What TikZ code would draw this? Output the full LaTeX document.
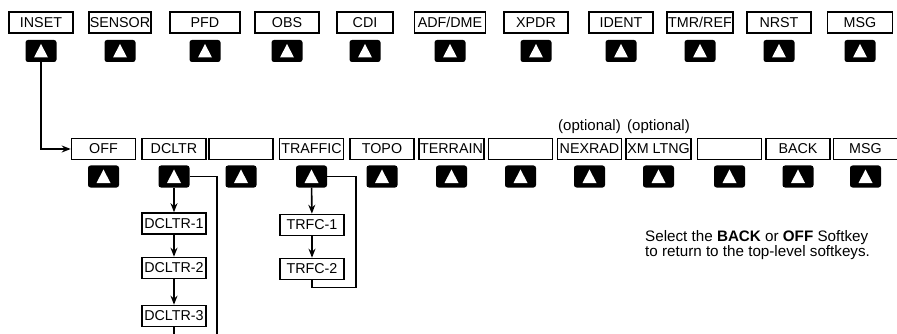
\documentclass[tikz,border=0pt]{standalone}
\usepackage{fontspec}
\setmainfont{Liberation Sans}
\usetikzlibrary{positioning,arrows.meta,calc}

\begin{document}
\begin{tikzpicture}[x=1pt,y=-1pt,>={Stealth[length=9pt,width=7pt]},
    every node/.style={font=\fontsize{14.3}{15}\selectfont},
    softbox/.style={draw,line width=1.6pt,minimum width=64pt,minimum height=21pt,inner sep=1pt},
    softkey/.style={fill=black,rounded corners=2.5pt,minimum width=31pt,minimum height=22pt,inner sep=0pt,
      path picture={\fill[white,sharp corners] ($(path picture bounding box.center)+(-7pt,-6.5pt)$) -- ($(path picture bounding box.center)+(7pt,-6.5pt)$) -- ($(path picture bounding box.center)+(0pt,7pt)$) -- cycle;}},
    link/.style={line width=1.6pt}]
        \useasboundingbox (0,0) rectangle (897,334);
        % top-level softkeys
        \node[softbox] (inset) at (41,22.5) {INSET};
        \node[softbox,minimum width=62pt] (sensor) at (120,22.5) {SENSOR};
        \node[softbox,minimum width=70pt] (pfd) at (205,22.5) {PFD};
        \node[softbox] (obs) at (287,22.5) {OBS};
        \node[softbox,minimum width=56pt] (cdi) at (365,22.5) {CDI};
        \node[softbox,minimum width=71pt] (adfdme) at (450,22.5) {ADF/DME};
        \node[softbox] (xpdr) at (536,22.5) {XPDR};
        \node[softbox] (ident) at (621,22.5) {IDENT};
        \node[softbox,minimum width=65pt] (tmrref) at (700,22.5) {TMR/REF};
        \node[softbox] (nrst) at (779,22.5) {NRST};
        \node[softbox,minimum width=65pt] (msg) at (860,22.5) {MSG};
        \node[softkey,below=6pt of inset] (kinset) {};
        \node[softkey,below=6pt of sensor] (ksensor) {};
        \node[softkey,below=6pt of pfd] (kpfd) {};
        \node[softkey,below=6pt of obs] (kobs) {};
        \node[softkey,below=6pt of cdi] (kcdi) {};
        \node[softkey,below=6pt of adfdme] (kadfdme) {};
        \node[softkey,below=6pt of xpdr] (kxpdr) {};
        \node[softkey,below=6pt of ident] (kident) {};
        \node[softkey,below=6pt of tmrref] (ktmrref) {};
        \node[softkey,below=6pt of nrst] (knrst) {};
        \node[softkey,below=6pt of msg] (kmsg) {};
        % inset softkeys
        \node[softbox] (off) at (103.5,149) {OFF};
        \node[softbox] (dcltr) at (174,149) {DCLTR};
        \node[softbox] (blanka) at (241,149) {};
        \node[softbox] (traffic) at (311.5,149) {TRAFFIC};
        \node[softbox] (topo) at (382,149) {TOPO};
        \node[softbox] (terrain) at (451.5,149) {TERRAIN};
        \node[softbox] (blankb) at (520.5,149) {};
        \node[softbox] (nexrad) at (589.5,149) {NEXRAD};
        \node[softbox] (xmltng) at (658.5,149) {XM LTNG};
        \node[softbox] (blankc) at (729.5,149) {};
        \node[softbox] (back) at (798,149) {BACK};
        \node[softbox] (msgb) at (865.5,149) {MSG};
        \node[softkey,below=5pt of off] (koff) {};
        \node[softkey,below=5pt of dcltr] (kdcltr) {};
        \node[softkey,below=5pt of blanka] (kblanka) {};
        \node[softkey,below=5pt of traffic] (ktraffic) {};
        \node[softkey,below=5pt of topo] (ktopo) {};
        \node[softkey,below=5pt of terrain] (kterrain) {};
        \node[softkey,below=5pt of blankb] (kblankb) {};
        \node[softkey,below=5pt of nexrad] (knexrad) {};
        \node[softkey,below=5pt of xmltng] (kxmltng) {};
        \node[softkey,below=5pt of blankc] (kblankc) {};
        \node[softkey,below=5pt of back] (kback) {};
        \node[softkey,below=5pt of msgb] (kmsgb) {};
        \node[font=\fontsize{15}{15}\selectfont,above=1pt of nexrad] (optnexrad) {(optional)};
        \node[font=\fontsize{15}{15}\selectfont,above=1pt of xmltng] (optxmltng) {(optional)};
        % declutter and traffic levels
        \node[softbox] (dcltr1) at (174,223.5) {DCLTR-1};
        \node[softbox] (dcltr2) at (174,268) {DCLTR-2};
        \node[softbox] (dcltr3) at (174,316) {DCLTR-3};
        \node[softbox] (trfc1) at (312,225) {TRFC-1};
        \node[softbox] (trfc2) at (312,269) {TRFC-2};
        \coordinate (dcltrdown) at (174,334);
        \coordinate (dcltrback) at (217,334);
        \draw[->,link] (kinset.south) |- (off.west);
        \draw[->,link] (kdcltr) -- (dcltr1);
        \draw[->,link] (dcltr1) -- (dcltr2);
        \draw[->,link] (dcltr2) -- (dcltr3);
        \draw[link] (dcltr3) -- (dcltrdown);
        \draw[link] (kdcltr.east) -| (dcltrback);
        \draw[->,link] (ktraffic) -- (trfc1);
        \draw[->,link] (trfc1) -- (trfc2);
        \draw[link] (ktraffic.east) -- ++(29,0) |- ($(trfc2.south)+(0,7)$) -- (trfc2.south);
        \node[anchor=west,align=left,inner sep=0pt,font=\fontsize{15.2}{15.5}\selectfont] (note) at (645,245)
          {Select the \textbf{BACK} or \textbf{OFF} Softkey\\to return to the top-level softkeys.};
      \end{tikzpicture}
\end{document}
